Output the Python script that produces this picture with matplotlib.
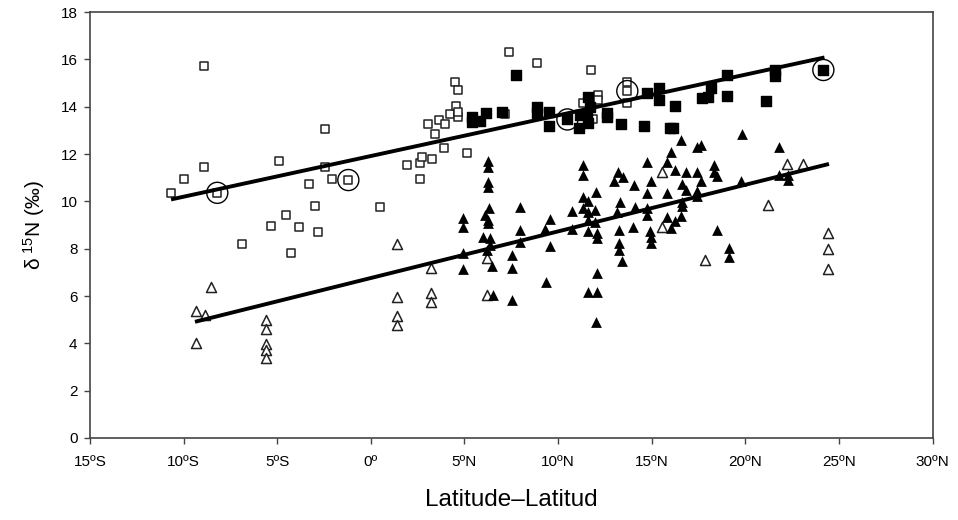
import matplotlib
matplotlib.use("Agg")
from matplotlib import pyplot as plt

plt.rcParams['font.family'] = ['Liberation Sans', 'DejaVu Sans']

# open squares
sq_open_x = [-10.67, -10.0, -8.91, -8.91, -8.2, -6.9, -5.31, -4.89, -4.51, -4.24, -3.82,
             -3.3, -3.0, -2.8, -2.43, -2.43, -2.06, -1.2, 0.49, 1.92, 2.63, 2.63, 2.72,
             3.07, 3.29, 3.43, 3.64, 3.93, 3.96, 4.23, 4.5, 4.55, 4.64, 4.64, 4.68, 5.16,
             7.17, 7.38, 8.9, 11.35, 11.78, 11.88, 12.15, 12.15, 13.67, 13.67, 13.7]
sq_open_y = [10.34, 10.94, 15.73, 11.46, 10.36, 8.21, 8.96, 11.69, 9.41, 7.83, 8.9,
             10.72, 9.81, 8.69, 13.05, 11.46, 10.94, 10.9, 9.77, 11.52, 11.63, 10.94, 11.89,
             13.28, 11.8, 12.83, 13.43, 12.27, 13.28, 13.67, 15.04, 14.03, 14.7, 13.55, 13.79, 12.03,
             13.67, 16.29, 15.83, 14.14, 15.55, 13.5, 14.49, 14.28, 15.05, 14.17, 14.66]

# filled squares
sq_fill_x = [5.39, 5.39, 5.83, 6.17, 7.02, 7.76, 8.86, 8.86, 9.54, 9.54, 10.5, 11.14,
             11.18, 11.53, 11.62, 11.62, 11.71, 12.6, 12.6, 13.37, 14.6, 14.74, 15.41,
             15.41, 15.98, 16.13, 16.25, 17.68, 18.03, 18.17, 19.01, 19.01, 21.09, 21.59,
             21.59, 24.17]
sq_fill_y = [13.58, 13.37, 13.41, 13.74, 13.79, 15.32, 14.0, 13.72, 13.79, 13.18, 13.46, 13.12,
             13.65, 13.72, 14.42, 13.32, 14.0, 13.72, 13.55, 13.27, 13.18, 14.56, 14.77,
             14.28, 13.08, 13.11, 14.03, 14.35, 14.42, 14.81, 15.34, 14.46, 14.25, 15.55,
             15.29, 15.55]

# open triangles
tri_open_x = [-9.34, -9.34, -8.86, -8.55, -5.6, -5.6, -5.6, -5.6, -5.6, 1.38, 1.38, 1.38,
              1.38, 3.2, 3.2, 3.2, 6.19, 6.19, 15.54, 15.54, 17.85, 21.23, 22.25, 23.1,
              24.4, 24.4, 24.4]
tri_open_y = [5.37, 4.0, 5.2, 6.37, 4.99, 4.6, 3.97, 3.72, 3.37, 8.2, 5.97, 5.17,
              4.77, 7.17, 6.11, 5.76, 7.59, 6.04, 11.22, 8.9, 7.52, 9.84, 11.58, 11.58,
              8.65, 7.97, 7.13]

# filled triangles
tri_fill_x = [6.24, 6.24, 6.24, 6.24, 6.31, 6.1, 6.28, 6.28, 6.01, 6.37, 6.37, 6.19, 6.46, 6.51,
              4.94, 4.94, 4.94, 4.94, 7.97, 7.97, 7.97, 7.53, 7.53, 7.53, 9.57, 9.31, 9.57, 9.34,
              10.73, 10.73, 11.35, 11.35, 11.35, 11.62, 11.35, 11.62, 12.03, 11.98, 11.62, 11.98,
              11.59, 12.1, 12.1, 12.07, 11.62, 12.07, 12.01, 13.22, 13.45, 12.99, 14.08, 14.74,
              14.95, 14.74, 13.31, 13.13, 14.11, 14.74, 14.74, 13.26, 14.02, 13.26, 13.26, 13.44,
              14.92, 14.95, 14.95, 16.55, 17.41, 17.64, 19.81, 16.04, 15.81, 16.25, 16.84, 17.41,
              18.35, 18.35, 18.48, 17.64, 16.61, 16.84, 15.81, 17.41, 17.41, 19.78, 21.82, 21.82,
              22.3, 22.3, 16.61, 16.61, 15.81, 16.25, 16.55, 16.04, 18.48, 19.13, 19.13]
tri_fill_y = [11.72, 11.46, 10.83, 10.62, 9.7, 9.42, 9.21, 9.07, 8.5, 8.44, 8.15, 7.94, 7.27, 6.04,
              9.28, 8.93, 7.8, 7.13, 9.74, 8.79, 8.29, 7.73, 7.17, 5.83, 9.24, 8.82, 8.11, 6.6,
              9.61, 8.82, 11.53, 11.11, 10.2, 10.03, 9.7, 9.56, 10.41, 9.63, 9.21, 9.14,
              8.73, 8.67, 8.44, 6.96, 6.18, 6.18, 4.91, 11.25, 11.01, 10.84, 10.67, 11.67,
              10.87, 10.36, 9.99, 9.56, 9.78, 9.7, 9.42, 8.79, 8.9, 8.22, 7.94, 7.49,
              8.73, 8.5, 8.22, 12.59, 12.31, 12.38, 12.83, 12.07, 11.67, 11.32, 11.22, 11.22,
              11.52, 11.22, 11.05, 10.84, 10.73, 10.48, 10.34, 10.42, 10.22, 10.87, 12.31, 11.11,
              11.11, 10.9, 9.99, 9.8, 9.32, 9.18, 9.36, 8.86, 8.79, 8.01, 7.66]

# circled points
circ_x = [-8.2, -1.2, 10.5, 13.7, 24.17]
circ_y = [10.36, 10.9, 13.46, 14.66, 15.55]

# regression lines (end points)
fit_up_x = [-10.67, 24.23]
fit_up_y = [10.08, 16.08]
fit_lo_x = [-9.39, 24.47]
fit_lo_y = [4.91, 11.58]

xticks = [-15, -10, -5, 0, 5, 10, 15, 20, 25, 30]
xticklabels = ['15ºS', '10ºS', '5ºS', '0º', '5ºN', '10ºN', '15ºN', '20ºN', '25ºN', '30ºN']
yticks = [0, 2, 4, 6, 8, 10, 12, 14, 16, 18]

fig = plt.figure(figsize=(9.58, 5.2), dpi=100)
ax = fig.add_axes([0.0939, 0.1577, 0.8795, 0.8192])

ax.scatter(sq_open_x, sq_open_y, marker='s', s=38, facecolors='white', edgecolors='#222222', linewidths=1.1, zorder=2)
ax.scatter(sq_fill_x, sq_fill_y, marker='s', s=55, color='black', zorder=2)
ax.scatter(tri_open_x, tri_open_y, marker='^', s=52, facecolors='white', edgecolors='#222222', linewidths=1.1, zorder=2)
ax.scatter(tri_fill_x, tri_fill_y, marker='^', s=60, color='black', linewidths=0, zorder=2)
ax.scatter(circ_x, circ_y, marker='o', s=230, facecolors='none', edgecolors='black', linewidths=1.0, zorder=4)

ax.plot(fit_up_x, fit_up_y, color='black', lw=2.8, solid_capstyle='butt', zorder=3)
ax.plot(fit_lo_x, fit_lo_y, color='black', lw=2.8, solid_capstyle='butt', zorder=3)

ax.set_xlim(-15, 30)
ax.set_ylim(0, 18)
ax.set_xticks(xticks)
ax.set_xticklabels(xticklabels)
ax.set_yticks(yticks)
ax.tick_params(direction='out', length=4, width=1, color='#444444', labelsize=11, pad=8)
ax.tick_params(axis='y', pad=5)
for sp in ax.spines.values():
    sp.set_color('#444444')
    sp.set_linewidth(1.2)

ax.set_xlabel('Latitude–Latitud', fontsize=17.5, labelpad=15)
ax.set_ylabel(r'$\mathregular{\delta^{\ 15}}$N (‰)', fontsize=15, labelpad=10)

fig.savefig('out.png', dpi=100)
